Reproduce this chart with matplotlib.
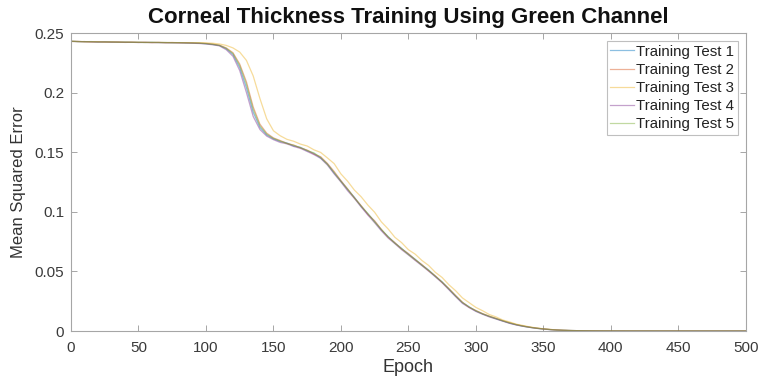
import matplotlib
matplotlib.use("Agg")
import matplotlib.pyplot as plt
import numpy as np

plt.rcParams['font.family'] = ['Liberation Sans', 'DejaVu Sans']

# Mean squared error sampled every 5 epochs (0..500) for each training run
epochs = list(range(0, 501, 5))

test1 = [0.2431, 0.2429, 0.2427, 0.2428, 0.2425, 0.2426, 0.2424, 0.2423, 0.2424, 0.2422,
         0.2422, 0.2421, 0.2422, 0.2420, 0.2420, 0.2419, 0.2419, 0.2417, 0.2416, 0.2414,
         0.2410, 0.2404, 0.2395, 0.2368, 0.2320, 0.2210, 0.2040, 0.1835, 0.1708, 0.1645,
         0.1612, 0.1590, 0.1578, 0.1552, 0.1541, 0.1512, 0.1490, 0.1452, 0.1401, 0.1325,
         0.1258, 0.1186, 0.1122, 0.1046, 0.0982, 0.0918, 0.0848, 0.0792, 0.0738, 0.0693,
         0.0645, 0.0602, 0.0553, 0.0512, 0.0458, 0.0412, 0.0352, 0.0293, 0.0238, 0.0203,
         0.0168, 0.0143, 0.0122, 0.0103, 0.0084, 0.0066, 0.0052, 0.0040, 0.0031, 0.0023,
         0.0017, 0.0012, 0.0008, 0.0006, 0.0004, 0.0003, 0.0002, 0.00015, 0.0001, 0.00008,
         0.00006, 0.00005, 0.00004, 0.00004, 0.00003, 0.00003, 0.00003, 0.00002, 0.00002, 0.00002,
         0.00002, 0.00002, 0.00002, 0.00001, 0.00001, 0.00001, 0.00001, 0.00001, 0.00001, 0.00001,
         0.00001]

test2 = [0.2429, 0.2430, 0.2426, 0.2426, 0.2426, 0.2424, 0.2425, 0.2423, 0.2422, 0.2423,
         0.2421, 0.2422, 0.2420, 0.2421, 0.2419, 0.2420, 0.2418, 0.2418, 0.2417, 0.2415,
         0.2413, 0.2407, 0.2398, 0.2375, 0.2335, 0.2240, 0.2090, 0.1880, 0.1735, 0.1660,
         0.1620, 0.1598, 0.1574, 0.1560, 0.1536, 0.1518, 0.1484, 0.1462, 0.1406, 0.1338,
         0.1262, 0.1192, 0.1118, 0.1052, 0.0978, 0.0925, 0.0852, 0.0786, 0.0742, 0.0688,
         0.0650, 0.0598, 0.0558, 0.0506, 0.0463, 0.0408, 0.0356, 0.0298, 0.0242, 0.0199,
         0.0172, 0.0146, 0.0124, 0.0106, 0.0086, 0.0069, 0.0054, 0.0042, 0.0032, 0.0024,
         0.0018, 0.0013, 0.0009, 0.0006, 0.0004, 0.0003, 0.0002, 0.00016, 0.00012, 0.00009,
         0.00007, 0.00005, 0.00004, 0.00004, 0.00003, 0.00003, 0.00003, 0.00002, 0.00002, 0.00002,
         0.00002, 0.00002, 0.00002, 0.00001, 0.00001, 0.00001, 0.00001, 0.00001, 0.00001, 0.00001,
         0.00001]

test3 = [0.2432, 0.2428, 0.2428, 0.2426, 0.2427, 0.2425, 0.2424, 0.2425, 0.2423, 0.2423,
         0.2422, 0.2421, 0.2421, 0.2421, 0.2420, 0.2420, 0.2419, 0.2419, 0.2418, 0.2418,
         0.2417, 0.2414, 0.2408, 0.2396, 0.2375, 0.2340, 0.2270, 0.2140, 0.1950, 0.1780,
         0.1680, 0.1638, 0.1608, 0.1592, 0.1568, 0.1552, 0.1520, 0.1498, 0.1452, 0.1404,
         0.1318, 0.1256, 0.1182, 0.1126, 0.1056, 0.0996, 0.0915, 0.0856, 0.0786, 0.0741,
         0.0682, 0.0645, 0.0592, 0.0550, 0.0492, 0.0449, 0.0388, 0.0338, 0.0278, 0.0238,
         0.0198, 0.0170, 0.0138, 0.0118, 0.0092, 0.0076, 0.0057, 0.0046, 0.0034, 0.0026,
         0.0018, 0.0013, 0.0009, 0.0006, 0.0004, 0.0003, 0.0002, 0.00016, 0.00012, 0.00009,
         0.00007, 0.00005, 0.00004, 0.00004, 0.00003, 0.00003, 0.00003, 0.00002, 0.00002, 0.00002,
         0.00002, 0.00002, 0.00002, 0.00001, 0.00001, 0.00001, 0.00001, 0.00001, 0.00001, 0.00001,
         0.00001]

test4 = [0.2430, 0.2427, 0.2428, 0.2425, 0.2424, 0.2425, 0.2423, 0.2424, 0.2421, 0.2422,
         0.2420, 0.2421, 0.2419, 0.2420, 0.2418, 0.2418, 0.2417, 0.2416, 0.2414, 0.2412,
         0.2408, 0.2401, 0.2392, 0.2360, 0.2305, 0.2185, 0.2000, 0.1800, 0.1690, 0.1635,
         0.1605, 0.1582, 0.1570, 0.1548, 0.1532, 0.1506, 0.1480, 0.1448, 0.1392, 0.1318,
         0.1250, 0.1176, 0.1112, 0.1040, 0.0972, 0.0908, 0.0840, 0.0780, 0.0732, 0.0682,
         0.0638, 0.0592, 0.0548, 0.0502, 0.0454, 0.0404, 0.0346, 0.0288, 0.0232, 0.0196,
         0.0164, 0.0140, 0.0118, 0.0100, 0.0082, 0.0064, 0.0050, 0.0039, 0.0030, 0.0022,
         0.0016, 0.0011, 0.0008, 0.0005, 0.0004, 0.0003, 0.0002, 0.00014, 0.0001, 0.00008,
         0.00006, 0.00005, 0.00004, 0.00003, 0.00003, 0.00003, 0.00002, 0.00002, 0.00002, 0.00002,
         0.00002, 0.00002, 0.00001, 0.00001, 0.00001, 0.00001, 0.00001, 0.00001, 0.00001, 0.00001,
         0.00001]

test5 = [0.2430, 0.2428, 0.2427, 0.2427, 0.2425, 0.2425, 0.2425, 0.2423, 0.2423, 0.2422,
         0.2422, 0.2420, 0.2421, 0.2420, 0.2420, 0.2418, 0.2419, 0.2417, 0.2416, 0.2415,
         0.2411, 0.2405, 0.2396, 0.2372, 0.2328, 0.2228, 0.2070, 0.1860, 0.1722, 0.1652,
         0.1616, 0.1594, 0.1572, 0.1558, 0.1538, 0.1514, 0.1494, 0.1456, 0.1398, 0.1330,
         0.1255, 0.1190, 0.1116, 0.1048, 0.0986, 0.0914, 0.0852, 0.0790, 0.0736, 0.0690,
         0.0642, 0.0600, 0.0552, 0.0508, 0.0460, 0.0410, 0.0354, 0.0295, 0.0240, 0.0201,
         0.0170, 0.0144, 0.0123, 0.0104, 0.0085, 0.0068, 0.0053, 0.0041, 0.0031, 0.0023,
         0.0017, 0.0012, 0.0008, 0.0006, 0.0004, 0.0003, 0.0002, 0.00015, 0.0001, 0.00008,
         0.00006, 0.00005, 0.00004, 0.00004, 0.00003, 0.00003, 0.00003, 0.00002, 0.00002, 0.00002,
         0.00002, 0.00002, 0.00002, 0.00001, 0.00001, 0.00001, 0.00001, 0.00001, 0.00001, 0.00001,
         0.00001]

series = [test1, test2, test3, test4, test5]
labels = ['Training Test 1', 'Training Test 2', 'Training Test 3',
          'Training Test 4', 'Training Test 5']
colors = ['#0072BD', '#D95319', '#EDB120', '#7E2F8E', '#77AC30']

x_ticks = [0, 50, 100, 150, 200, 250, 300, 350, 400, 450, 500]
y_ticks = [0, 0.05, 0.1, 0.15, 0.2, 0.25]
y_tick_labels = ['0', '0.05', '0.1', '0.15', '0.2', '0.25']

fig = plt.figure(figsize=(7.61, 3.82), dpi=100)
ax = fig.add_axes([0.0933, 0.1335, 0.8867, 0.7801])

for vals, lab, col in zip(series, labels, colors):
    ax.plot(epochs, vals, color=col, lw=0.9, alpha=0.45, label=lab)

ax.set_xlim(0, 500)
ax.set_ylim(0, 0.25)
ax.set_xticks(x_ticks)
ax.set_yticks(y_ticks)
ax.set_yticklabels(y_tick_labels)

spine_col = '#a6a6a6'
for s in ax.spines.values():
    s.set_color(spine_col)
    s.set_linewidth(0.8)
ax.tick_params(direction='in', length=4, width=0.7, color=spine_col,
               top=True, right=True, labelsize=11, labelcolor='#3a3a3a')
ax.tick_params(axis='x', pad=7)
ax.tick_params(axis='y', pad=5)

ax.set_xlabel('Epoch', fontsize=13, color='#333333', labelpad=3)
ax.set_ylabel('Mean Squared Error', fontsize=12, color='#333333', labelpad=6)
ax.set_title('Corneal Thickness Training Using Green Channel', fontsize=16,
             fontweight='bold', color='#111111', pad=7)

leg = ax.legend(loc='upper right', fontsize=10.8, frameon=True, fancybox=False,
                edgecolor='#b0b0b0', handlelength=1.6, handletextpad=0.15,
                borderpad=0.22, labelspacing=0.28, borderaxespad=0.55)
leg.get_frame().set_linewidth(0.8)
for t in leg.get_texts():
    t.set_color('#222222')

fig.savefig('out.png', dpi=100)
